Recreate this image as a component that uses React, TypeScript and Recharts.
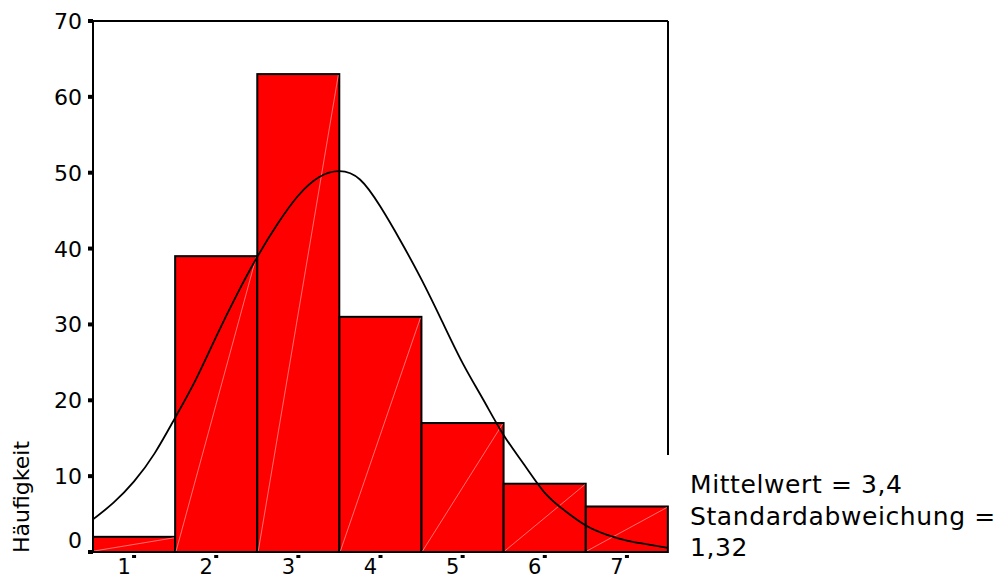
import {
  ComposedChart,
  Bar,
  Line,
  XAxis,
  YAxis,
  ReferenceLine,
} from "recharts";

const categories = ["1", "2", "3", "4", "5", "6", "7"];
const counts = [2, 39, 63, 31, 17, 9, 6];
const yTicks = [0, 10, 20, 30, 40, 50, 60, 70];

// normal curve at quarter steps
const curveX = [
  0.5, 0.75, 1, 1.25, 1.5, 1.75, 2, 2.25, 2.5, 2.75, 3, 3.25, 3.5, 3.75, 4,
  4.25, 4.5, 4.75, 5, 5.25, 5.5, 5.75, 6, 6.25, 6.5, 6.75, 7, 7.25, 7.5,
];
const curveY = [
  4.3, 6.5, 9.3, 13.0, 17.7, 22.7, 28.4, 33.9, 38.9, 43.3, 47.0, 49.4, 50.2,
  49.1, 45.5, 40.9, 35.9, 30.4, 24.9, 20.1, 15.4, 11.5, 7.8, 5.4, 3.5, 2.3,
  1.5, 1.0, 0.55,
];

const legendLines = ["Mittelwert = 3,4", "Standardabweichung =", "1,32"];

const bars = categories.map((c, i) => ({ cat: c, n: counts[i] }));
const curve = curveX.map((x, i) => ({ x, y: curveY[i] }));

const FONT = "'DejaVu Sans', sans-serif";

function HistBar(props: any) {
  const { x, y, width, height } = props;
  if (!height) return null;
  return (
    <g>
      <rect x={x} y={y} width={width} height={height} fill="#ff0000" stroke="#000" strokeWidth={2} />
      <line x1={x + 1} y1={y + height - 1} x2={x + width - 1} y2={y + 1} stroke="#ff8c8c" strokeWidth={0.8} />
    </g>
  );
}

function YTick(props: any) {
  const { x, y, payload } = props;
  const shift = payload.value === 0 ? -12 : 0;
  return (
    <g>
      <rect x={x - 5} y={y - 2} width={5} height={4} fill="#000" />
      <text x={x - 11} y={y + shift} dy={8} textAnchor="end" fontSize={22} fontFamily={FONT} fill="#000">
        {payload.value}
      </text>
    </g>
  );
}

function XTick(props: any) {
  const { x, y, payload } = props;
  return (
    <g>
      <rect x={x - 2} y={y + 3} width={4} height={3} fill="#000" />
      <text x={x - 10} y={y + 22} textAnchor="middle" fontSize={21} fontFamily={FONT} fill="#000">
        {payload.value}
      </text>
    </g>
  );
}

export default function App() {
  return (
    <div style={{ position: "absolute", left: 0, top: 0, width: 999, height: 580, background: "#fff" }}>
      <ComposedChart
        width={999}
        height={580}
        data={bars}
        barCategoryGap={0}
        margin={{ top: 21, right: 331, bottom: 0, left: 0 }}
      >
        <XAxis
          xAxisId="cat"
          dataKey="cat"
          height={28}
          tickLine={false}
          tickSize={0}
          tickMargin={0}
          axisLine={{ stroke: "#000", strokeWidth: 2 }}
          tick={<XTick />}
          interval={0}
        />
        <XAxis xAxisId="num" dataKey="x" type="number" domain={[0.5, 7.5]} hide allowDataOverflow />
        <YAxis
          width={93}
          domain={[0, 70]}
          ticks={yTicks}
          tickLine={false}
          tickSize={0}
          tickMargin={0}
          axisLine={{ stroke: "#000", strokeWidth: 2 }}
          tick={<YTick />}
          label={{
            content: () => (
              <text
                x={0}
                y={0}
                transform="translate(29 497) rotate(-90)"
                textAnchor="middle"
                fontSize={22}
                fontFamily={FONT}
                fill="#000"
              >
                Häufigkeit
              </text>
            ),
          }}
        />
        <ReferenceLine xAxisId="cat" y={70} stroke="#000" strokeWidth={2} />
        <ReferenceLine
          xAxisId="num"
          segment={[
            { x: 7.5, y: 70 },
            { x: 7.5, y: 12.8 },
          ]}
          stroke="#000"
          strokeWidth={2}
        />
        <Bar xAxisId="cat" dataKey="n" shape={<HistBar />} isAnimationActive={false} />
        <Line
          xAxisId="num"
          data={curve}
          dataKey="y"
          type="natural"
          stroke="#000"
          strokeWidth={1.8}
          dot={false}
          isAnimationActive={false}
        />
      </ComposedChart>
      <svg width={999} height={580} style={{ position: "absolute", left: 0, top: 0, pointerEvents: "none" }}>
        {legendLines.map((t, i) => (
          <text key={t} x={690} y={493 + i * 31.5} fontSize={25} letterSpacing={0.6} fontFamily={FONT} fill="#000">
            {t}
          </text>
        ))}
      </svg>
    </div>
  );
}
